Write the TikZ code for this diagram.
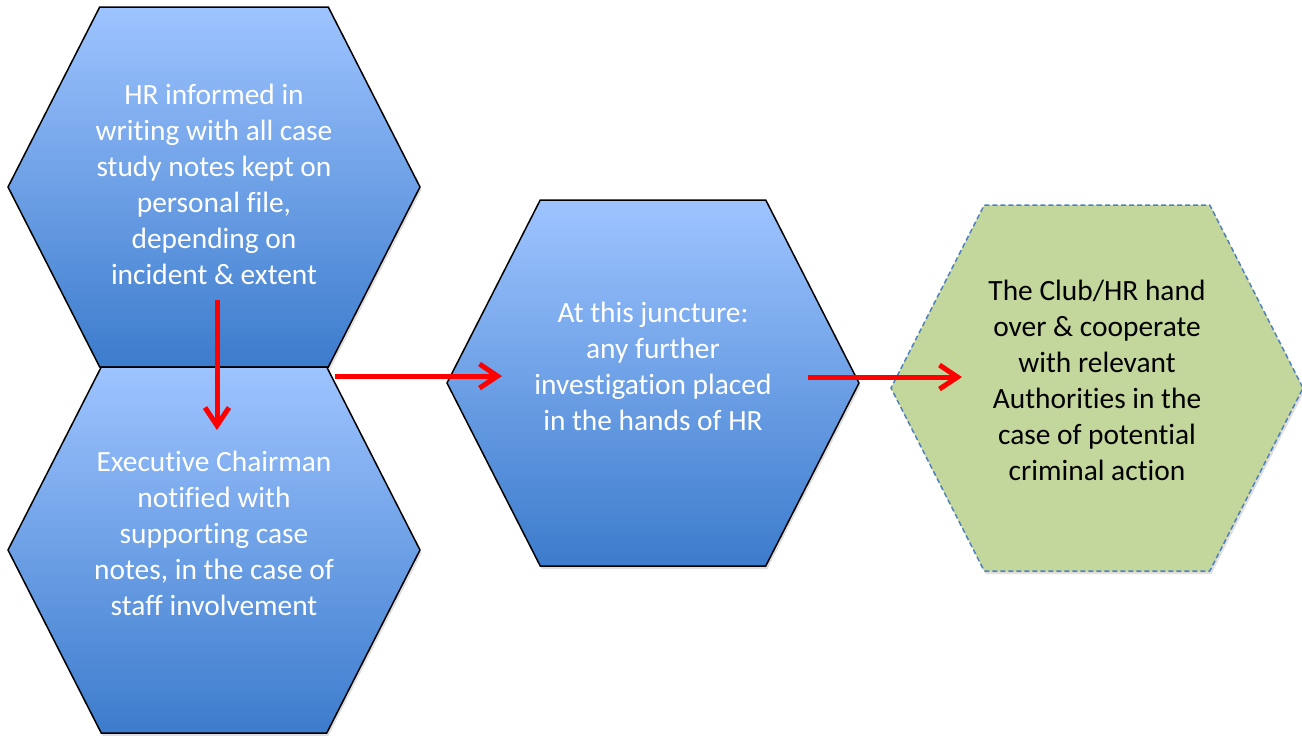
\documentclass[tikz,border=0pt]{standalone}
\usepackage{fontspec}
\setmainfont{Carlito}[Ligatures=NoCommon]
\usetikzlibrary{positioning,shapes.symbols,arrows.meta,shadows}

\definecolor{hexTop}{RGB}{158,196,255}
\definecolor{hexBottom}{RGB}{60,124,204}
\definecolor{hexGreen}{RGB}{195,214,155}
\definecolor{hexDash}{RGB}{79,129,189}
\definecolor{flowRed}{RGB}{255,0,0}

\tikzset{
  hexagon/.style={signal, signal to=east and west, signal pointer angle=126,
    minimum width=206pt, minimum height=183pt, inner sep=0pt, outer sep=0pt},
  bluehex/.style={hexagon, draw=black, line width=0.75pt,
    top color=hexTop, bottom color=hexBottom,
    drop shadow={shadow xshift=0.8pt, shadow yshift=-1.5pt, opacity=0.25}},
  greenhex/.style={hexagon, draw=hexDash, line width=0.75pt,
    dash pattern=on 2.5pt off 1.5pt, fill=hexGreen,
    drop shadow={shadow xshift=0.8pt, shadow yshift=-1.5pt, opacity=0.25}},
  hextext/.style={align=center, font=\fontsize{14.7}{18}\selectfont},
  flow/.style={draw=flowRed, line width=2.5pt,
    -{Straight Barb[length=9pt,width=12pt]}}
}

\begin{document}
\begin{tikzpicture}[x=0.5pt, y=-0.5pt]
  \useasboundingbox (0,0) rectangle (1302,735);

  % hexagons
  \node[bluehex, minimum height=180pt] (hr) at (214,187) {};
  \node[bluehex, below=0pt of hr] (chair) {};
  \node[bluehex] (juncture) at (653,383) {};
  \node[greenhex, right=16pt of juncture, yshift=-2.5pt] (club) {};

  % texts
  \node[hextext, white] (hr-txt) at ([yshift=1.5pt]hr.center)
    {HR informed in\\writing with all case\\study notes kept on\\personal file,\\depending on\\incident \& extent};
  \node[hextext, white] (chair-txt) at ([yshift=8.5pt]chair.center)
    {Executive Chairman\\notified with\\supporting case\\notes, in the case of\\staff involvement};
  \node[hextext, white] (juncture-txt) at ([yshift=8.5pt]juncture.center)
    {At this juncture:\\any further\\investigation placed\\in the hands of HR};
  \node[hextext, black] (club-txt) at ([yshift=4pt]club.center)
    {The Club/HR hand\\over \& cooperate\\with relevant\\Authorities in the\\case of potential\\criminal action};

  % arrows
  \coordinate (down-start) at (217,300);
  \coordinate (down-end) at (217,430);
  \coordinate (mid-start) at (335,376);
  \coordinate (mid-end) at (502,376);
  \coordinate (right-start) at (808,377);
  \coordinate (right-end) at (962,377);
  \draw[flow] (down-start) -- (down-end);
  \draw[flow] (mid-start) -- (mid-end);
  \draw[flow] (right-start) -- (right-end);
\end{tikzpicture}
\end{document}
